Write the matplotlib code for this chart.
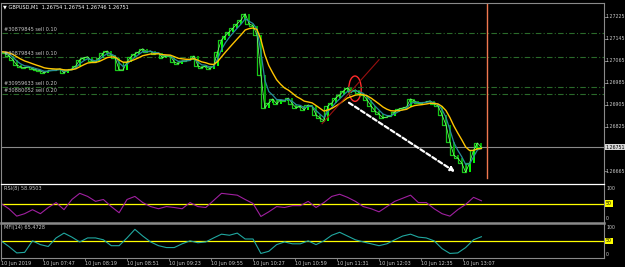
import numpy as np
import pandas as pd
import matplotlib
matplotlib.use("Agg")
import matplotlib.pyplot as plt
from matplotlib.patches import Ellipse

# ---------------- data ----------------
symbol_title = "GBPUSD,M1  1.26754 1.26754 1.26746 1.26751"
bar_minutes = 3          # one value every 3 minutes, starting 07:15
close = [
    1.27098, 1.27094, 1.27083, 1.27069, 1.27050, 1.27043, 1.27040, 1.27043, 1.27036, 1.27032,
    1.27029, 1.27021, 1.27029, 1.27032, 1.27032, 1.27036, 1.27021, 1.27032, 1.27036, 1.27047,
    1.27069, 1.27076, 1.27080, 1.27065, 1.27061, 1.27076, 1.27094, 1.27101, 1.27087, 1.27076,
    1.27032, 1.27032, 1.27061, 1.27080, 1.27090, 1.27098, 1.27109, 1.27098, 1.27101, 1.27090,
    1.27094, 1.27076, 1.27083, 1.27083, 1.27061, 1.27054, 1.27065, 1.27065, 1.27069, 1.27083,
    1.27047, 1.27040, 1.27047, 1.27036, 1.27047, 1.27098, 1.27141, 1.27156, 1.27170, 1.27185,
    1.27200, 1.27214, 1.27236, 1.27200, 1.27192, 1.27160, 1.27014, 1.26894, 1.26912, 1.26927,
    1.26909, 1.26923, 1.26920, 1.26930, 1.26909, 1.26894, 1.26901, 1.26887, 1.26905, 1.26901,
    1.26869, 1.26858, 1.26847, 1.26901, 1.26912, 1.26930, 1.26941, 1.26956, 1.26967, 1.26952,
    1.26960, 1.26949, 1.26941, 1.26923, 1.26901, 1.26883, 1.26872, 1.26858, 1.26861, 1.26865,
    1.26880, 1.26890, 1.26894, 1.26898, 1.26927, 1.26920, 1.26912, 1.26912, 1.26916, 1.26920,
    1.26909, 1.26901, 1.26869, 1.26832, 1.26770, 1.26723, 1.26712, 1.26694, 1.26661, 1.26694,
    1.26741, 1.26767, 1.26751,
]
ind_minutes = 6
rsi = [50, 33, 9, 17, 30, 17, 37, 53, 30, 63, 83, 73, 57, 63, 40, 20, 63, 73, 53, 40,
       33, 40, 37, 33, 53, 40, 37, 60, 83, 80, 77, 63, 50, 8, 23, 40, 37, 43, 43, 57,
       37, 53, 73, 80, 70, 57, 40, 33, 23, 40, 57, 67, 77, 53, 53, 33, 17, 9, 30, 47,
       70, 58.95]
mfi = [50, 29, 5, 7, 50, 36, 29, 61, 79, 64, 46, 61, 61, 54, 32, 32, 61, 93, 68, 46,
       32, 25, 25, 39, 50, 43, 46, 61, 75, 71, 79, 57, 57, 3, 11, 36, 46, 39, 39, 50,
       36, 50, 71, 82, 68, 54, 46, 39, 32, 39, 54, 68, 75, 64, 61, 50, 21, 3, 5, 25,
       54, 65.47]
orders = ["#30879845 sell 0.10", "#30879843 sell 0.10", "#30959633 sell 0.20", "#30880052 sell 0.20"]
order_prices = [1.27167, 1.27080, 1.26970, 1.26945]
bid = 1.26751
price_ticks = [1.27225, 1.27145, 1.27065, 1.26985, 1.26905, 1.26825, 1.26665]
time_labels = ["10 Jun 2019", "10 Jun 07:47", "10 Jun 08:19", "10 Jun 08:51", "10 Jun 09:23",
               "10 Jun 09:55", "10 Jun 10:27", "10 Jun 10:59", "10 Jun 11:31", "10 Jun 12:03",
               "10 Jun 12:35", "10 Jun 13:07"]
time_label_min = [0, 32, 64, 96, 128, 160, 192, 224, 256, 288, 320, 352]
rsi_label = "RSI(8) 58.9503"
mfi_label = "MFI(14) 65.4728"
# annotation objects (time in minutes since 07:15, price)
vline_t = 370.3
trend_pts = [(244.6, 1.26837), (288.0, 1.27069)]
arrow_pts = [(265.1, 1.26913), (345.9, 1.26662)]
ellipse_c = (269.7, 1.26964)
ellipse_wh = (9.5, 0.00092)

# ---------------- layout ----------------
W, H = 625, 267
fig = plt.figure(figsize=(W / 100, H / 100), dpi=100, facecolor="black")
FONT = ["Liberation Sans Narrow", "DejaVu Sans"]
plt.rcParams["font.family"] = FONT
TXT = "#c8c8c8"
FS = 3.6
FSR = 3.45


def px_axes(x0, y0, x1, y1):
    ax = fig.add_axes([x0 / W, 1 - y1 / H, (x1 - x0) / W, (y1 - y0) / H])
    ax.set_facecolor("black")
    for s in ax.spines.values():
        s.set_visible(False)
    ax.set_xticks([])
    ax.set_yticks([])
    return ax


XL = (0.76, 459.4)
ax = px_axes(2, 3, 604, 184)
ax.set_xlim(*XL)
ax.set_ylim(1.26618, 1.27275)

t = np.arange(len(close)) * bar_minutes
c = np.array(close)
s = pd.Series(c)

# order lines
for lab, p in zip(orders, order_prices):
    ax.axhline(p, color="#2a6a2a", lw=0.8, ls=(0, (5, 2, 1, 2)))
    ax.text(2.5, p + 0.00002, lab, color=TXT, fontsize=FS, va="bottom", ha="left")

# bid line
ax.axhline(bid, color="#8a8a8a", lw=0.8)

# price bars
prev = np.r_[c[0], c[:-1]]
up = c >= prev
ax.vlines(t[up], prev[up], c[up], color="#00ff00", lw=1.4)
ax.vlines(t[~up], c[~up], prev[~up], color="#00a800", lw=1.4)
ax.plot(t, c, color="#18c818", lw=0.9, drawstyle="steps-pre")
ax.plot(t, c, color="#7dff7d", lw=0.5)

# moving averages
ax.plot(t, s.ewm(span=3, adjust=False).mean(), color="#2a8a9c", lw=0.9)
ax.plot(t, s.ewm(span=8, adjust=False).mean(), color="#ffc400", lw=1.0)

# objects
ax.plot([p[0] for p in trend_pts], [p[1] for p in trend_pts], color="#9a1010", lw=0.8)
ax.annotate("", xy=arrow_pts[1], xytext=arrow_pts[0],
            arrowprops=dict(arrowstyle="-|>", color="white", lw=1.6, ls=(0, (2, 1.2)),
                            mutation_scale=6, shrinkA=0, shrinkB=0))
ax.add_patch(Ellipse(ellipse_c, ellipse_wh[0], ellipse_wh[1], fill=False, ec="#ff2a2a", lw=1.0))
ax.plot([vline_t, vline_t], [1.26641, 1.27275], color="#f07850", lw=1.0)

ax.text(1.5, 1.27275 - 0.00013, "\u25bc " + symbol_title, color="white", fontsize=FS,
        va="center", ha="left")

# right price scale
for p in price_ticks:
    ax.text(1.002, p, f"{p:.5f}", transform=ax.get_yaxis_transform(), color=TXT,
            fontsize=FSR, va="center", ha="left")
    ax.plot([1.0, 1.0045], [p, p], transform=ax.get_yaxis_transform(), color="#8a8a8a",
            lw=0.6, clip_on=False)
ax.text(1.002, bid, f"{bid:.5f}", transform=ax.get_yaxis_transform(), color="black",
        fontsize=FSR, va="center", ha="left",
        bbox=dict(boxstyle="square,pad=0.1", fc="#d8d8d8", ec="none"))

# RSI panel
ti = np.arange(len(rsi)) * ind_minutes
ax2 = px_axes(2, 185, 604, 222)
ax2.set_xlim(*XL)
ax2.set_ylim(-10, 110)
ax2.axhline(50, color="#ffff00", lw=0.9)
ax2.plot(ti, rsi, color="#a020a0", lw=0.8)
ax2.text(2.5, 100, rsi_label, color=TXT, fontsize=FS, va="center")
# MFI panel
ax3 = px_axes(2, 224, 604, 258)
ax3.set_xlim(*XL)
ax3.set_ylim(-14, 113)
ax3.axhline(50, color="#ffff00", lw=0.9)
ax3.plot(ti, mfi, color="#20a8a0", lw=0.8)
ax3.text(2.5, 100, mfi_label, color=TXT, fontsize=FS, va="center")

for a in (ax2, ax3):
    tr = a.get_yaxis_transform()
    a.text(1.0035, 100, "100", transform=tr, color=TXT, fontsize=FSR, va="center")
    a.text(1.0035, 0, "0", transform=tr, color=TXT, fontsize=FSR, va="center")
    a.text(1.0035, 50, "50", transform=tr, color="black", fontsize=FSR, va="center",
           bbox=dict(boxstyle="square,pad=0.15", fc="#ffff00", ec="none"))

# frame lines (figure pixels)
def fline(x0, y0, x1, y1, col, lw):
    fig.add_artist(plt.Line2D([x0 / W, x1 / W], [1 - y0 / H, 1 - y1 / H], color=col, lw=lw,
                              transform=fig.transFigure))

fline(1.5, 3, 604, 3, "#8a8a8a", 0.8)
fline(1.5, 3, 1.5, 258, "#8a8a8a", 0.8)
fline(604, 3, 604, 258, "#8a8a8a", 0.8)
fline(1.5, 184.3, 604, 184.3, "#ffffff", 0.9)
fline(1.5, 222.7, 604, 222.7, "#8a8a8a", 1.8)
fline(1.5, 258, 604, 258, "#8a8a8a", 0.8)

# time axis
for lab, m in zip(time_labels, time_label_min):
    ax3.text(m, -0.09, lab, transform=ax3.get_xaxis_transform(), color=TXT, fontsize=FS,
             va="top", ha="left", clip_on=False)
    ax3.plot([m, m], [0, -0.06], transform=ax3.get_xaxis_transform(), color="#8a8a8a",
             lw=0.6, clip_on=False)

fig.savefig("out.png", dpi=100, facecolor="black")
